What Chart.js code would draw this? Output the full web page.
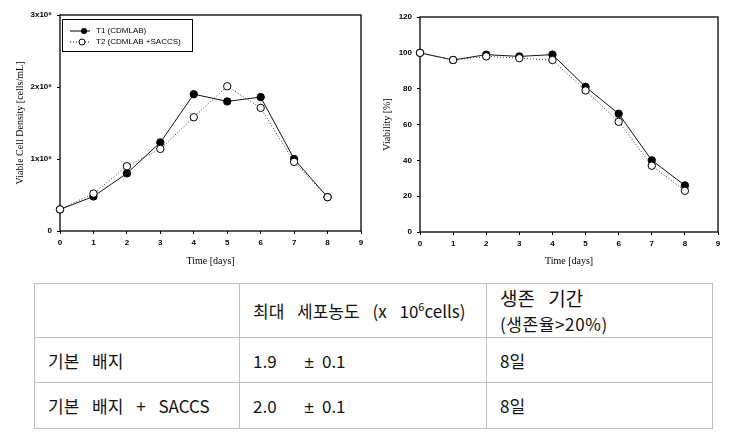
<!DOCTYPE html>
<html>
<head>
<meta charset="utf-8">
<title>Viable cell density and viability</title>
<script src="https://cdn.jsdelivr.net/npm/chart.js"></script>
<style>
  body{margin:0;background:#fff;}
  #wrap{position:relative;width:739px;height:439px;overflow:hidden;}
  .box{position:absolute;top:0;}
  table{position:absolute;left:34px;top:283px;border-collapse:collapse;table-layout:fixed;
        font-family:'Noto Sans CJK KR',sans-serif;font-size:17px;color:#111;word-spacing:9px;}
  td{border:1px solid #c0c0c0;padding:0 0 0 13px;vertical-align:middle;white-space:nowrap;}
  .big{font-size:19px;line-height:26px;}
  .small{font-size:17px;line-height:26px;letter-spacing:0.6px;}
  .pm{font-family:'Liberation Sans',Arial,sans-serif;}
</style>
</head>
<body>
<div id="wrap">
  <div class="box" style="left:0px"><canvas id="density" width="375" height="270"></canvas></div>
  <div class="box" style="left:370px"><canvas id="viability" width="369" height="270"></canvas></div>
  <table>
    <colgroup><col style="width:205px"><col style="width:247px"><col style="width:226px"></colgroup>
    <tr style="height:54px">
      <td></td>
      <td>최대 세포농도 (x 10<sup style="font-size:11px">6</sup>cells)</td>
      <td><div class="big">생존 기간</div><div class="small">(생존율&gt;20%)</div></td>
    </tr>
    <tr style="height:45px">
      <td>기본 배지</td>
      <td><span>1.9</span><span class="pm" style="margin-left:28px">±</span><span style="margin-left:8px">0.1</span></td>
      <td>8일</td>
    </tr>
    <tr style="height:46px">
      <td>기본 배지 + SACCS</td>
      <td><span>2.0</span><span class="pm" style="margin-left:28px">±</span><span style="margin-left:8px">0.1</span></td>
      <td>8일</td>
    </tr>
  </table>
</div>
<script>
// data
var days = [0, 1, 2, 3, 4, 5, 6, 7, 8];
// viable cell density, x10^6 cells/mL
var densityT1 = [0.30, 0.48, 0.80, 1.23, 1.90, 1.80, 1.86, 1.00, 0.47];
var densityT2 = [0.30, 0.52, 0.90, 1.14, 1.58, 2.01, 1.71, 0.96, 0.47];
// viability, %
var viabilityT1 = [100, 96, 99, 98, 99, 81, 66, 40, 26];
var viabilityT2 = [100, 96, 98, 97, 96, 79, 61.5, 37, 23];
var densityTicks = ['0', '1x10⁶', '2x10⁶', '3x10⁶'];
var seriesNames = ['T1 (CDMLAB)', 'T2 (CDMLAB +SACCS)'];

function pts(ys) {
  return days.map(function(d, i){ return {x: d, y: ys[i]}; });
}

var tickFont = {family: "'Liberation Sans', Arial, sans-serif", size: 8, weight: 'bold'};
var titleFont = {family: "'Liberation Serif', 'Times New Roman', serif", size: 10};

// full box around the plot
var frame = {
  id: 'frame',
  beforeDatasetsDraw: function(chart){
    var a = chart.chartArea, c = chart.ctx;
    c.save();
    c.strokeStyle = '#000';
    c.lineWidth = 1.3;
    c.strokeRect(a.left, a.top, a.right - a.left, a.bottom - a.top);
    c.restore();
  }
};

// legend box inside the density plot
var boxLegend = {
  id: 'boxLegend',
  afterDraw: function(chart){
    var c = chart.ctx;
    c.save();
    c.strokeStyle = '#000';
    c.lineWidth = 1;
    c.strokeRect(62.5, 19.5, 130, 32);
    c.font = "8px 'Liberation Sans', Arial, sans-serif";
    c.textBaseline = 'middle';
    c.fillStyle = '#000';
    // T1
    c.beginPath(); c.moveTo(70, 31); c.lineTo(90, 31); c.stroke();
    c.beginPath(); c.arc(84, 31, 3, 0, Math.PI*2); c.fill();
    c.fillText(seriesNames[0], 96, 31);
    // T2
    c.setLineDash([1, 2]);
    c.beginPath(); c.moveTo(70, 42); c.lineTo(90, 42); c.stroke();
    c.setLineDash([]);
    c.beginPath(); c.arc(82, 42, 3, 0, Math.PI*2);
    c.fillStyle = '#fff'; c.fill(); c.stroke();
    c.fillStyle = '#000';
    c.fillText(seriesNames[1], 96, 42);
    c.restore();
  }
};

function makeDatasets(a, b) {
  return [
    {label: seriesNames[0], data: pts(a), order: 1, borderColor: '#111', borderWidth: 1,
     pointRadius: 3.7, pointBackgroundColor: '#000', pointBorderColor: '#000', clip: false},
    {label: seriesNames[1], data: pts(b), order: 0, borderColor: '#333', borderWidth: 1,
     borderDash: [1, 2], pointRadius: 3.7, pointBackgroundColor: '#fff',
     pointBorderColor: '#000', pointBorderWidth: 1, clip: false}
  ];
}

function axisX(h) {
  return {
    type: 'linear', min: 0, max: 9,
    ticks: {stepSize: 1, color: '#000', font: tickFont, padding: 4},
    grid: {drawOnChartArea: false, tickLength: 3, color: '#000'},
    border: {display: false},
    title: {display: true, text: 'Time [days]', color: '#000', font: titleFont, padding: {top: 0, bottom: 3}},
    afterFit: function(s){ s.height = h; }
  };
}

function makeChart(id, datasets, yAxis, pad, plugins) {
  return new Chart(document.getElementById(id), {
    type: 'line',
    data: {datasets: datasets},
    options: {
      responsive: false,
      animation: false,
      events: [],
      layout: {padding: pad},
      plugins: {legend: {display: false}, tooltip: {enabled: false}},
      scales: {x: axisX(pad.xh), y: yAxis}
    },
    plugins: plugins
  });
}

makeChart('density', makeDatasets(densityT1, densityT2), {
  type: 'linear', min: 0, max: 3,
  ticks: {stepSize: 1, color: '#000', font: tickFont, padding: 5,
          callback: function(v){ return densityTicks[v]; }},
  grid: {drawOnChartArea: false, tickLength: 3, color: '#000'},
  border: {display: false},
  title: {display: true, text: 'Viable Cell Density [cells/mL]', color: '#000', font: titleFont, padding: {top: 14, bottom: 0}},
  afterFit: function(s){ s.width = 60; }
}, {top: 15, right: 14, left: 0, bottom: 0, xh: 39}, [frame, boxLegend]);

makeChart('viability', makeDatasets(viabilityT1, viabilityT2), {
  type: 'linear', min: 0, max: 120,
  ticks: {stepSize: 20, color: '#000', font: tickFont, padding: 5},
  grid: {drawOnChartArea: false, tickLength: 3, color: '#000'},
  border: {display: false},
  title: {display: true, text: 'Viability [%]', color: '#000', font: titleFont, padding: {top: 11, bottom: 0}},
  afterFit: function(s){ s.width = 50; }
}, {top: 17, right: 21, left: 0, bottom: 0, xh: 38}, [frame]);
</script>
</body>
</html>
